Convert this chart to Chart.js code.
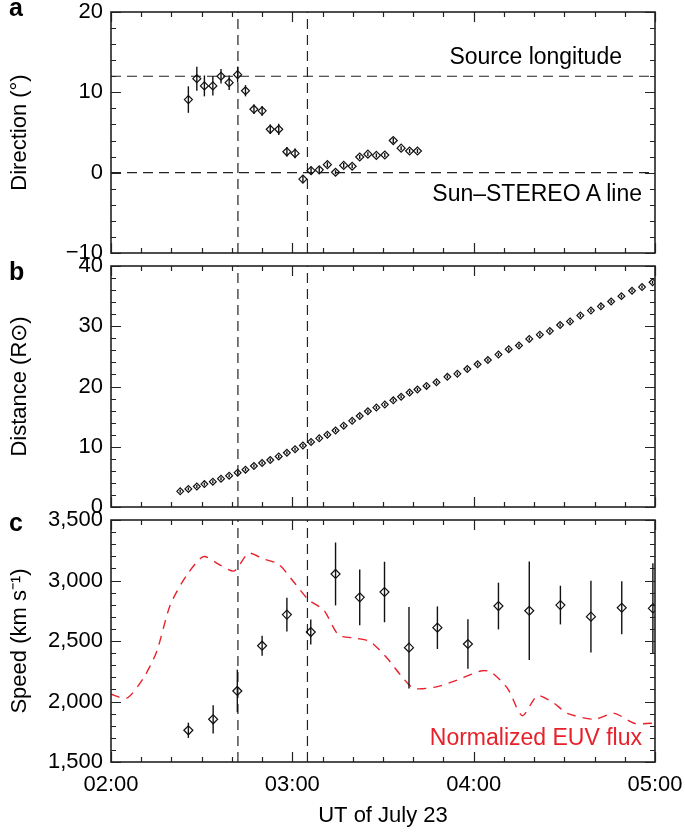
<!DOCTYPE html>
<html>
<head>
<meta charset="utf-8">
<script src="https://cdn.jsdelivr.net/npm/chart.js@4.4.1/dist/chart.umd.min.js"></script>
<style>
body { margin: 0; background: #fff; }
#wrap { position: relative; width: 685px; height: 838px; font-family: 'Liberation Sans', Arial, sans-serif; }
#wrap canvas { position: absolute; left: 0; top: 0; }
.note { position: absolute; font-size: 23px; line-height: 23px; white-space: nowrap; color: #000; }
.lab { position: absolute; font-size: 25px; font-weight: bold; line-height: 24px; }
</style>
</head>
<body>
<div id="wrap">
  <canvas id="dirChart" width="685" height="838"></canvas>
  <canvas id="distChart" width="685" height="838"></canvas>
  <canvas id="speedChart" width="685" height="838"></canvas>
  <div class="lab" style="left:9px;top:-5px;">a</div>
  <div class="lab" style="left:9px;top:259px;">b</div>
  <div class="lab" style="left:9px;top:510px;">c</div>
  <div class="note" style="right:63px;top:45px;">Source longitude</div>
  <div class="note" style="right:43px;top:182px;">Sun–STEREO A line</div>
  <div class="note" style="right:43px;top:726px;color:#e8202a;">Normalized EUV flux</div>
</div>
<script>
// time axis: minutes after 02:00 UT
var hourLabels = ['02:00', '03:00', '04:00', '05:00'];
var markerTimes = [42, 65];          // vertical dashed lines
var refDirections = [12, 0];         // source longitude, Sun-STEREO A line

// panel a: direction (deg)
var dirTimes = [25.6, 28.4, 30.9, 33.7, 36.4, 39.1, 41.9, 44.5, 47.3, 50.0, 52.7, 55.5, 58.2, 60.9, 63.5,
  66.2, 68.9, 71.6, 74.3, 77.0, 79.8, 82.3, 85.0, 87.8, 90.6, 93.4, 96.0, 98.8, 101.4];
var dirValues = [9.1, 11.7, 10.8, 10.8, 12.0, 11.2, 12.2, 10.2, 7.9, 7.7, 5.4, 5.4, 2.6, 2.4, -0.8,
  0.25, 0.35, 1.0, 0.05, 0.9, 0.8, 1.95, 2.3, 2.15, 2.2, 4.0, 3.05, 2.7, 2.7];
var dirErrors = [1.65, 1.5, 1.3, 1.2, 0.9, 0.9, 1.0, 0.7, 0.6, 0.6, 0.6, 0.7, 0.6, 0.6, 0.4,
  0.5, 0.35, 0.3, 0.25, 0.3, 0.25, 0.25, 0.25, 0.25, 0.25, 0.3, 0.25, 0.25, 0.25];

// panel b: distance (solar radii)
var distTimes = [22.9, 25.6, 28.4, 30.9, 33.7, 36.4, 39.1, 41.9, 44.5, 47.3, 50.0, 52.7, 55.5, 58.2, 60.9,
  63.5, 66.2, 68.9, 71.6, 74.3, 77.0, 79.8, 82.3, 85.0, 87.8, 90.6, 93.4, 96.0, 98.8, 101.4, 104.4,
  107.7, 111.3, 114.6, 117.9, 121.3, 124.7, 128.2, 131.6, 135.0, 138.4, 141.9, 145.2, 148.6, 151.9,
  155.3, 158.8, 162.1, 165.5, 168.9, 172.4, 175.7, 179.2];
var distValues = [2.6, 3.0, 3.4, 3.8, 4.2, 4.7, 5.2, 5.7, 6.2, 6.8, 7.3, 7.8, 8.4, 9.0, 9.6,
  10.2, 10.8, 11.4, 12.0, 12.7, 13.5, 14.3, 15.1, 15.9, 16.5, 17.0, 17.7, 18.3, 19.0, 19.5, 20.1,
  20.7, 21.6, 22.1, 22.9, 23.7, 24.4, 25.3, 26.2, 26.8, 27.9, 28.6, 29.2, 30.2, 30.8,
  31.8, 32.6, 33.3, 34.1, 35.0, 35.9, 36.5, 37.3];

// panel c: speed (km/s)
var speedTimes = [25.6, 33.8, 41.8, 50.0, 58.2, 66.1, 74.3, 82.3, 90.5, 98.6, 108.0, 118.1, 128.2,
  138.4, 148.7, 158.8, 169.0, 179.3];
var speedValues = [1762, 1853, 2087, 2461, 2718, 2574, 3054, 2861, 2905, 2445, 2610, 2475, 2789,
  2750, 2797, 2701, 2775, 2770];
var speedErrors = [63, 117, 176, 82, 140, 103, 260, 230, 250, 337, 176, 205, 193,
  406, 160, 297, 219, 372];

// normalized EUV flux, scaled to the speed axis
var euvTimes = [0, 5.2, 10.7, 15.1, 19.6, 25.1, 30.6, 36.1, 40.8, 45.5, 50.5, 55.5, 60.4, 65.4, 70.4,
  75.3, 81.4, 85.8, 91.4, 95.8, 100.2, 108.0, 114.6, 122.3, 125.6, 131.2, 136.1, 141.1, 146.6, 151.0,
  159.9, 166.5, 173.1, 178.7, 180];
var euvValues = [2060, 2027, 2192, 2412, 2797, 3045, 3197, 3128, 3079, 3225, 3178, 3134, 2990, 2839, 2756,
  2550, 2522, 2494, 2357, 2219, 2109, 2123, 2178, 2252, 2246, 2109, 1883, 2048, 1985, 1902,
  1853, 1902, 1820, 1820, 1835];

function pts(xs, ys) {
  return xs.map(function (x, i) { return { x: x, y: ys[i] }; });
}

var tickFont = { family: "'Liberation Sans', Arial, sans-serif", size: 22 };
var titleFont = { family: "'Liberation Sans Narrow', 'Liberation Sans', sans-serif", size: 22 };

// box around the plot with inward ticks on all four sides
var frameTicks = {
  id: 'frameTicks',
  afterDatasetsDraw: function (chart, args, opts) {
    var a = chart.chartArea, ctx = chart.ctx;
    var xs = chart.scales.x, ys = chart.scales.y;
    var isMajor = function (v, m) { var r = Math.abs(v % m); return r < 1e-6 || Math.abs(r - m) < 1e-6; };
    ctx.save();
    ctx.strokeStyle = '#222';
    ctx.lineWidth = 1.2;
    ctx.beginPath();
    xs.ticks.forEach(function (t) {
      var px = Math.round(xs.getPixelForValue(t.value)) + 0.5;
      var len = isMajor(t.value, opts.xMajor) ? 10 : 5;
      ctx.moveTo(px, a.bottom); ctx.lineTo(px, a.bottom - len);
      ctx.moveTo(px, a.top); ctx.lineTo(px, a.top + len);
    });
    ys.ticks.forEach(function (t) {
      var py = Math.round(ys.getPixelForValue(t.value)) + 0.5;
      var len = isMajor(t.value, opts.yMajor) ? 10 : 5;
      ctx.moveTo(a.left, py); ctx.lineTo(a.left + len, py);
      ctx.moveTo(a.right, py); ctx.lineTo(a.right - len, py);
    });
    ctx.stroke();
    ctx.lineWidth = 1.6;
    ctx.strokeRect(a.left, a.top, a.right - a.left, a.bottom - a.top);
    ctx.restore();
  }
};

// vertical error bars read from dataset.errors
var errorBars = {
  id: 'errorBars',
  afterDatasetsDraw: function (chart) {
    var ctx = chart.ctx, ys = chart.scales.y, xs = chart.scales.x;
    ctx.save();
    ctx.strokeStyle = '#111';
    ctx.lineWidth = 1.4;
    chart.data.datasets.forEach(function (ds) {
      if (!ds.errors) return;
      ds.data.forEach(function (p, i) {
        var px = xs.getPixelForValue(p.x);
        ctx.beginPath();
        ctx.moveTo(px, ys.getPixelForValue(p.y - ds.errors[i]));
        ctx.lineTo(px, ys.getPixelForValue(p.y + ds.errors[i]));
        ctx.stroke();
      });
    });
    ctx.restore();
  }
};

function markerSets(ymin, ymax) {
  return markerTimes.map(function (t) {
    return {
      data: [{ x: t, y: ymin }, { x: t, y: ymax }],
      showLine: true, borderColor: '#222', borderWidth: 1.2, borderDash: [10, 6],
      pointRadius: 0
    };
  });
}

function pointSet(xs, ys, errs, r) {
  return {
    data: pts(xs, ys),
    errors: errs,
    pointStyle: 'rectRot', pointRadius: r, pointHoverRadius: r,
    pointBorderColor: '#111', pointBackgroundColor: 'rgba(0,0,0,0)', pointBorderWidth: 1.2
  };
}

function makePanel(id, cfg) {
  return new Chart(document.getElementById(id), {
    type: 'scatter',
    data: { datasets: cfg.datasets },
    options: {
      responsive: false,
      animation: false,
      events: [],
      layout: { padding: { top: cfg.top, bottom: cfg.bottom, left: 0, right: 30 } },
      plugins: {
        legend: { display: false },
        tooltip: { enabled: false },
        frameTicks: { xMajor: 60, yMajor: cfg.yMajor }
      },
      scales: {
        x: {
          type: 'linear', min: 0, max: 180,
          grid: { display: false, drawTicks: false },
          border: { display: false },
          ticks: {
            display: cfg.showX, stepSize: 10, autoSkip: false, maxRotation: 0,
            padding: 10, color: '#000', font: tickFont,
            callback: function (v) { return v % 60 === 0 ? hourLabels[v / 60] : ''; }
          },
          title: { display: cfg.showX, text: 'UT of July 23', color: '#000', font: tickFont, padding: { bottom: 9 } },
          afterFit: function (s) { s.height = cfg.showX ? 76 : 0; s.paddingLeft = 0; s.paddingRight = 0; }
        },
        y: {
          min: cfg.ymin, max: cfg.ymax,
          grid: { display: false, drawTicks: false },
          border: { display: false },
          ticks: {
            stepSize: cfg.yStep, autoSkip: false, padding: 8, color: '#000', font: tickFont,
            callback: function (v) {
              if (Math.abs(v % cfg.yMajor) > 1e-6) return '';
              var s = Math.abs(v).toLocaleString('en-US');
              return v < 0 ? '\u2212' + s : s;
            }
          },
          title: { display: true, text: cfg.yTitle, color: '#000', font: titleFont, padding: { top: 7 } },
          afterFit: function (s) { s.width = 111; s.paddingTop = 0; s.paddingBottom = 0; }
        }
      }
    },
    plugins: [errorBars, frameTicks]
  });
}

// a: direction
makePanel('dirChart', {
  top: 12, bottom: 585, ymin: -10, ymax: 20, yStep: 2, yMajor: 10,
  yTitle: 'Direction (°)', showX: false,
  datasets: [pointSet(dirTimes, dirValues, dirErrors, 4)]
    .concat(refDirections.map(function (d) {
      return {
        data: [{ x: 0, y: d }, { x: 180, y: d }],
        showLine: true, borderColor: '#222', borderWidth: 1.2, borderDash: [10, 6], pointRadius: 0
      };
    }))
    .concat(markerSets(-10, 20))
});

// b: distance
makePanel('distChart', {
  top: 266, bottom: 331, ymin: 0, ymax: 40, yStep: 2, yMajor: 10,
  yTitle: 'Distance (R\u2299)', showX: false,
  datasets: [pointSet(distTimes, distValues, distValues.map(function () { return 0.25; }), 3.4)]
    .concat(markerSets(0, 40))
});

// c: speed and EUV flux
makePanel('speedChart', {
  top: 520, bottom: 0, ymin: 1500, ymax: 3500, yStep: 100, yMajor: 500,
  yTitle: 'Speed (km s\u207B\u00B9)', showX: true,
  datasets: [pointSet(speedTimes, speedValues, speedErrors, 4.5),
    {
      data: pts(euvTimes, euvValues),
      showLine: true, borderColor: '#e8202a', borderWidth: 1.4, borderDash: [9, 7],
      tension: 0.25, pointRadius: 0
    }]
    .concat(markerSets(1500, 3500))
});
</script>
</body>
</html>
